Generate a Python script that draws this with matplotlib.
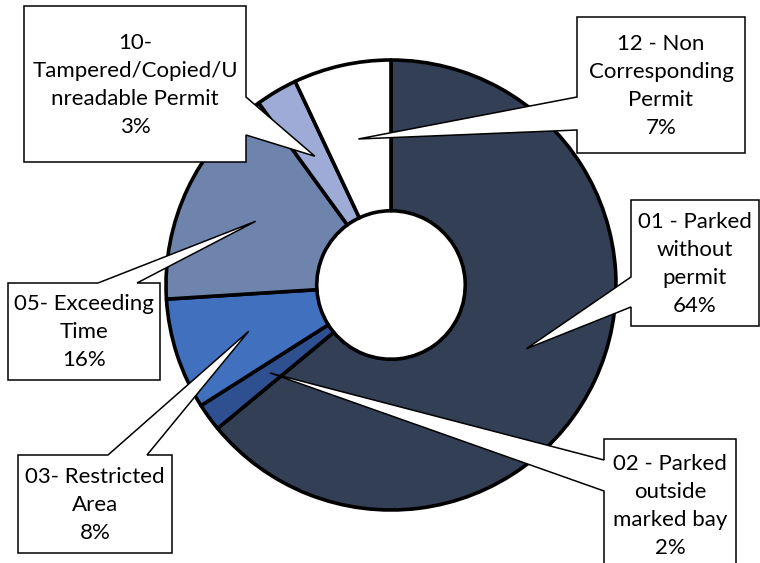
import numpy as np
import matplotlib
matplotlib.use("Agg")
import matplotlib.pyplot as plt
from matplotlib.patches import Polygon

# ---- data ----
categories = [
    "01 - Parked\nwithout\npermit",
    "02 - Parked\noutside\nmarked bay",
    "03- Restricted\nArea",
    "05- Exceeding\nTime",
    "10-\nTampered/Copied/U\nnreadable Permit",
    "12 - Non\nCorresponding\nPermit",
]
values = [64, 2, 8, 16, 3, 7]
colors = ["#333F55", "#2E5091", "#4170BE", "#6E84AC", "#9DABD6", "#FFFFFF"]

# ---- layout (pixels, origin top-left) ----
W, H = 760, 563
CX, CY, R = 391, 285, 225
HOLE = 0.33
# box: (x0, y0, x1, y1), pointer side, pointer base start/end
boxes = [
    ((631, 200, 759, 326), "left", 277, 307),
    ((604, 439, 736, 570), "left", 460, 491),
    ((18, 455, 172, 553), "top", 108, 147),
    ((8, 283, 160, 380), "top", 98, 137),
    ((24, 6, 246, 162), "right", 97, 135),
    ((577, 17, 745, 153), "left", 97, 130),
]

plt.rcParams['font.family'] = ['Lato', 'DejaVu Sans']
fig = plt.figure(figsize=(W / 100, H / 100), dpi=100)
ax = fig.add_axes([(CX - R) / W, (H - CY - R) / H, 2 * R / W, 2 * R / H])
wedges, _ = ax.pie(values, colors=colors, startangle=90, counterclock=False,
                   radius=1,
                   wedgeprops=dict(width=1 - HOLE, edgecolor="black",
                                   linewidth=2.6, joinstyle="round"))
for w in wedges:
    w.set_clip_on(False)
ax.set_xlim(-1, 1)
ax.set_ylim(-1, 1)
ax.axis("off")

ov = fig.add_axes([0, 0, 1, 1])
ov.set_xlim(0, W)
ov.set_ylim(H, 0)
ov.axis("off")
ov.patch.set_alpha(0)

inv = ov.transData.inverted()
for w, lab, v, (bx, side, a, b) in zip(wedges, categories, values, boxes):
    th = np.deg2rad((w.theta1 + w.theta2) / 2)
    r = 1 - w.width / 2
    tip = inv.transform(ax.transData.transform((r * np.cos(th), r * np.sin(th))))
    x0, y0, x1, y1 = bx
    t = tuple(tip)
    if side == "right":
        pts = [(x0, y0), (x1, y0), (x1, a), t, (x1, b), (x1, y1), (x0, y1)]
    elif side == "left":
        pts = [(x0, y0), (x1, y0), (x1, y1), (x0, y1), (x0, b), t, (x0, a)]
    else:
        pts = [(x0, y0), (a, y0), t, (b, y0), (x1, y0), (x1, y1), (x0, y1)]
    ov.add_patch(Polygon(pts, closed=True, facecolor="white", edgecolor="black",
                         linewidth=1.1, joinstyle="miter"))
    ov.text((x0 + x1) / 2, (y0 + y1) / 2 + 1, f"{lab}\n{v}%", ha="center",
            va="center", multialignment="center", fontsize=16,
            linespacing=1.5, color="black")

fig.savefig("out.png", dpi=100, facecolor="white")
